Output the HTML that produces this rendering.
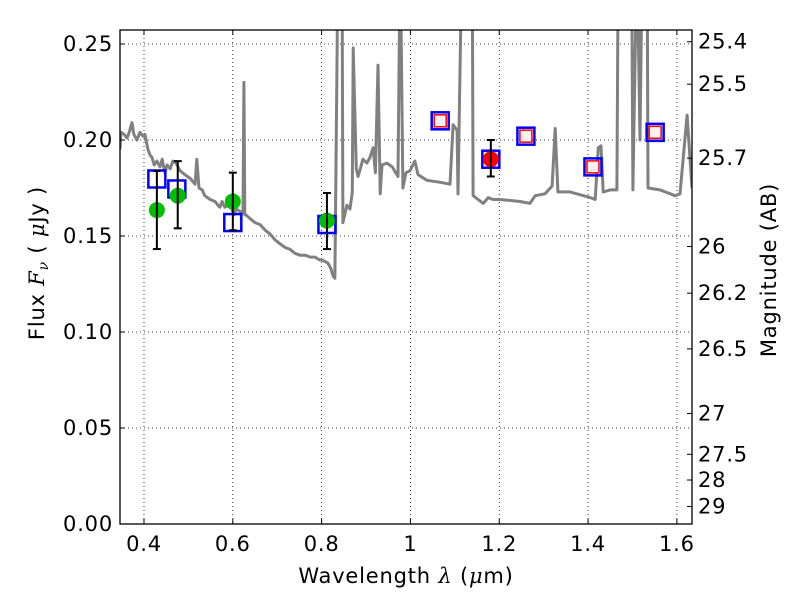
<!DOCTYPE html>
<html><head><meta charset="utf-8"><style>
html,body{margin:0;padding:0;background:#fff;}
svg{display:block;font-family:"DejaVu Sans","Liberation Sans",sans-serif;}
.tl{letter-spacing:0.8px;}
</style></head><body>
<svg id="chart" width="800" height="600" xmlns="http://www.w3.org/2000/svg">
<defs><clipPath id="plotclip"><rect x="120" y="30" width="572" height="494"/></clipPath></defs>
<rect x="0" y="0" width="800" height="600" fill="#fff"/>
<g id="grid"></g>
<g id="spec" clip-path="url(#plotclip)"></g>
<g id="marks"></g>
<rect x="120" y="30" width="572" height="494" fill="none" stroke="#000" stroke-width="1.3"/>
<g id="axes"></g>
<text x="406" y="583" font-size="21" text-anchor="middle" class="tl">Wavelength  <tspan font-style="italic" font-family="DejaVu Serif, serif">λ</tspan> (<tspan font-style="italic" font-family="DejaVu Serif, serif">μ</tspan>m)</text>
<text transform="translate(44,263) rotate(-90)" font-size="21" text-anchor="middle" class="tl">Flux  <tspan font-style="italic" font-family="DejaVu Serif, serif">F<tspan font-size="14" dy="4">ν</tspan></tspan><tspan dy="-4">  ( </tspan><tspan font-style="italic" font-family="DejaVu Serif, serif">μ</tspan>Jy )</text>
<text transform="translate(776,270) rotate(-90)" font-size="21" text-anchor="middle" class="tl">Magnitude (AB)</text>
</svg>
<script>
const specWave=[0.346,0.348,0.355,0.362,0.368,0.373,0.377,0.384,0.391,0.398,0.402,0.409,0.414,0.418,0.423,0.429,0.436,0.441,0.447,0.452,0.459,0.465,0.472,0.481,0.492,0.504,0.515,0.519,0.524,0.531,0.537,0.549,0.560,0.567,0.571,0.576,0.582,0.589,0.598,0.603,0.607,0.623,0.625,0.627,0.630,0.639,0.650,0.661,0.673,0.684,0.695,0.706,0.718,0.729,0.740,0.751,0.763,0.774,0.785,0.796,0.801,0.814,0.821,0.826,0.830,0.837,0.846,0.848,0.857,0.864,0.869,0.871,0.878,0.882,0.886,0.893,0.902,0.909,0.916,0.921,0.927,0.932,0.936,0.947,0.959,0.972,0.977,0.983,0.990,0.999,1.010,1.017,1.037,1.067,1.089,1.096,1.105,1.107,1.116,1.139,1.141,1.164,1.175,1.186,1.202,1.247,1.269,1.281,1.303,1.319,1.326,1.332,1.359,1.405,1.416,1.423,1.429,1.434,1.450,1.465,1.468,1.498,1.501,1.510,1.517,1.522,1.533,1.535,1.562,1.585,1.596,1.607,1.623,1.634];
const specFlux=[0.195,0.204,0.203,0.201,0.205,0.209,0.203,0.200,0.204,0.202,0.203,0.195,0.192,0.191,0.187,0.189,0.186,0.190,0.183,0.187,0.185,0.189,0.188,0.184,0.182,0.180,0.177,0.190,0.175,0.174,0.171,0.169,0.168,0.166,0.165,0.168,0.165,0.166,0.164,0.161,0.164,0.162,0.230,0.161,0.161,0.159,0.157,0.156,0.153,0.151,0.148,0.146,0.144,0.143,0.141,0.140,0.140,0.139,0.139,0.1375,0.1375,0.136,0.133,0.129,0.128,0.30,0.30,0.157,0.166,0.164,0.173,0.248,0.185,0.181,0.184,0.190,0.188,0.191,0.196,0.183,0.239,0.172,0.187,0.188,0.186,0.181,0.30,0.175,0.183,0.184,0.189,0.182,0.179,0.178,0.177,0.208,0.205,0.172,0.30,0.30,0.171,0.167,0.170,0.169,0.169,0.168,0.167,0.171,0.172,0.176,0.206,0.173,0.173,0.170,0.169,0.196,0.197,0.173,0.174,0.174,0.30,0.30,0.174,0.30,0.20,0.30,0.30,0.175,0.174,0.172,0.171,0.172,0.213,0.175];
const bandWave=[0.429,0.474,0.600,0.812,1.067,1.181,1.260,1.411,1.551];
const bandFlux=[0.1797,0.1745,0.157,0.156,0.210,0.190,0.202,0.186,0.204];
const nirWave=[1.067,1.260,1.411,1.551];
const nirFlux=[0.210,0.202,0.186,0.204];
const obsWave=[0.429,0.476,0.600,0.812];
const obsFlux=[0.1635,0.171,0.168,0.158];
const obsHi=[0.1839,0.189,0.183,0.1724];
const obsLo=[0.1432,0.154,0.153,0.1432];
const redWave=[1.181];
const redFlux=[0.190];
const redHi=[0.200];
const redLo=[0.181];
const xTicks=[0.4,0.6,0.8,1.0,1.2,1.4,1.6];
const xTickLabels=["0.4","0.6","0.8","1","1.2","1.4","1.6"];
const yTicks=[0,0.05,0.10,0.15,0.20,0.25];
const yTickLabels=["0.00","0.05","0.10","0.15","0.20","0.25"];
const magTicks=[25.4,25.5,25.7,26,26.2,26.5,27,27.5,28,29];
const magLabels=["25.4","25.5","25.7","26","26.2","26.5","27","27.5","28","29"];

const L=120,R=692,T=30,B=524,XMIN=0.346,XMAX=1.634,YMIN=0,YMAX=0.2573;
const NS="http://www.w3.org/2000/svg";
function sx(v){return L+(v-XMIN)/(XMAX-XMIN)*(R-L);}
function sy(v){return B-(v-YMIN)/(YMAX-YMIN)*(B-T);}
function mk(tag,attrs,parent){const e=document.createElementNS(NS,tag);for(const k in attrs)e.setAttribute(k,attrs[k]);parent.appendChild(e);return e;}
const grid=document.getElementById('grid'),axes=document.getElementById('axes'),spec=document.getElementById('spec'),marks=document.getElementById('marks');

xTicks.forEach((t,i)=>{const x=sx(t);
 const g=mk('line',{x1:x,x2:x,y1:T,y2:B,stroke:'#000','stroke-width':0.8,'stroke-dasharray':'1,3'},grid);
 
 
 mk('line',{x1:x,x2:x,y1:B,y2:B-5,stroke:'#000'},axes);
 mk('line',{x1:x,x2:x,y1:T,y2:T+5,stroke:'#000'},axes);
 const tx=mk('text',{x:x,y:B+27,'font-size':21,'text-anchor':'middle','class':'tl'},axes);
 tx.textContent=xTickLabels[i];
 
 
});
yTicks.forEach((t,i)=>{const y=sy(t);
 const g=mk('line',{x1:L,x2:R,y1:y,y2:y,stroke:'#000','stroke-width':0.8,'stroke-dasharray':'1,3'},grid);
 
 
 mk('line',{x1:L,x2:L+5,y1:y,y2:y,stroke:'#000'},axes);
 const tx=mk('text',{x:L-7,y:y+7,'font-size':21,'text-anchor':'end','class':'tl'},axes);
 tx.textContent=yTickLabels[i];
 
 
});
magTicks.forEach((m,i)=>{const f=Math.pow(10,(23.9-m)/2.5);const y=sy(f);
 mk('line',{x1:R,x2:R-5,y1:y,y2:y,stroke:'#000'},axes);
 const tx=mk('text',{x:R+6,y:y+7,'font-size':21,'text-anchor':'start','class':'tl'},axes);
 tx.textContent=magLabels[i];
 
 
});

let d='';specWave.forEach((w,i)=>{d+=(i?'L':'M')+sx(w).toFixed(1)+','+sy(specFlux[i]).toFixed(1);});
const sp=mk('path',{d:d,fill:'none',stroke:'#808080','stroke-width':3,'stroke-linejoin':'round'},spec);



function errbar(x,hi,lo){const X=sx(x);
 mk('line',{x1:X,x2:X,y1:sy(hi),y2:sy(lo),stroke:'#000','stroke-width':2},marks);
 mk('line',{x1:X-4,x2:X+4,y1:sy(hi),y2:sy(hi),stroke:'#000','stroke-width':2},marks);
 mk('line',{x1:X-4,x2:X+4,y1:sy(lo),y2:sy(lo),stroke:'#000','stroke-width':2},marks);}

bandWave.forEach((w,i)=>{
 const r=mk('rect',{x:sx(w)-8.5,y:sy(bandFlux[i])-8.5,width:17,height:17,fill:'none',stroke:'#0000ff','stroke-width':2.5},marks);
 
 
});
nirWave.forEach((w,i)=>{
 const r=mk('rect',{x:sx(w)-6,y:sy(nirFlux[i])-6,width:12,height:12,fill:'#fdf0f0',stroke:'#ff0000','stroke-width':1.5},marks);
 
 
});
obsWave.forEach((w,i)=>{
 const c=mk('circle',{cx:sx(w),cy:sy(obsFlux[i]),r:8,fill:'#00bf00'},marks);
 
 
 errbar(w,obsHi[i],obsLo[i]);
});
redWave.forEach((w,i)=>{
 const c=mk('circle',{cx:sx(w),cy:sy(redFlux[i]),r:8,fill:'#ff0000'},marks);
 
 
 errbar(w,redHi[i],redLo[i]);
});
</script>
</body></html>
